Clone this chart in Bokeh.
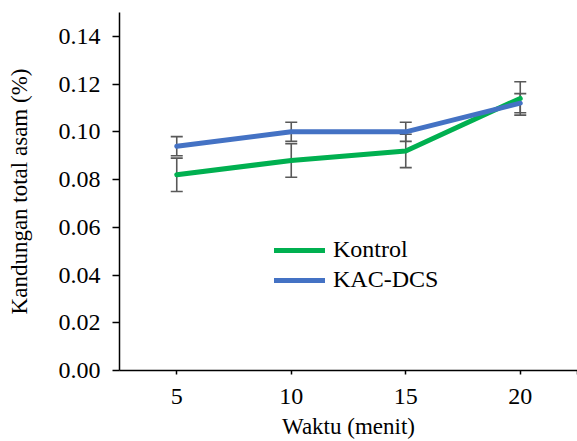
import math
from bokeh.plotting import figure
from bokeh.models import (ColumnDataSource, Whisker, TeeHead, FixedTicker,
                          NumeralTickFormatter, Legend, LegendItem, Range1d)
from bokeh.embed import file_html
from bokeh.resources import INLINE

# ---- data ----
waktu = [5, 10, 15, 20]
kontrol = [0.082, 0.088, 0.092, 0.114]
kontrol_err = [0.007, 0.007, 0.007, 0.007]
kacdcs = [0.094, 0.100, 0.100, 0.112]
kacdcs_err = [0.004, 0.004, 0.004, 0.004]
y_ticks = [0.00, 0.02, 0.04, 0.06, 0.08, 0.10, 0.12, 0.14]
x_ticks = [5, 10, 15, 20]

FONT = "Liberation Serif"
GREEN = "#00B050"
BLUE = "#4472C4"
ERR = "#595959"

p = figure(width=577, height=441, x_range=Range1d(2.5, 22.5), y_range=Range1d(0, 0.15),
           output_backend="svg", toolbar_location=None,
           min_border_left=119, min_border_right=0, min_border_top=12, min_border_bottom=40)
p.xgrid.visible = False
p.ygrid.visible = False
p.outline_line_color = None
p.background_fill_color = "white"
p.border_fill_color = "white"

src_k = ColumnDataSource(dict(x=waktu, y=kontrol,
                              lo=[v - e for v, e in zip(kontrol, kontrol_err)],
                              hi=[v + e for v, e in zip(kontrol, kontrol_err)]))
src_b = ColumnDataSource(dict(x=waktu, y=kacdcs,
                              lo=[v - e for v, e in zip(kacdcs, kacdcs_err)],
                              hi=[v + e for v, e in zip(kacdcs, kacdcs_err)]))

for src in (src_k, src_b):
    w = Whisker(base="x", lower="lo", upper="hi", source=src,
                line_color=ERR, line_width=1.6,
                upper_head=TeeHead(size=12, line_color=ERR, line_width=1.6),
                lower_head=TeeHead(size=12, line_color=ERR, line_width=1.6))
    p.add_layout(w)

r1 = p.line("x", "y", source=src_k, line_color=GREEN, line_width=5,
            line_cap="round", line_join="round")
r2 = p.line("x", "y", source=src_b, line_color=BLUE, line_width=5,
            line_cap="round", line_join="round")

# axes
xa = p.xaxis[0]
xa.ticker = FixedTicker(ticks=x_ticks + [22.5])
xa.major_label_overrides = {22.5: ""}
xa.minor_tick_line_color = None
xa.major_tick_in = 0
xa.major_tick_out = 4
xa.major_label_standoff = 14
xa.axis_label = "Waktu (menit)"
xa.axis_label_standoff = 7

ya = p.yaxis[0]
ya.ticker = FixedTicker(ticks=y_ticks)
ya.formatter = NumeralTickFormatter(format="0.00")
ya.minor_tick_line_color = None
ya.major_tick_in = 0
ya.major_tick_out = 7
ya.major_label_standoff = 12
ya.axis_label = "Kandungan total asam (%)"
ya.axis_label_standoff = 24

for ax in (xa, ya):
    ax.axis_line_color = "black"
    ax.axis_line_width = 1.5
    ax.major_tick_line_color = "black"
    ax.major_tick_line_width = 1.5
    ax.major_label_text_font = FONT
    ax.major_label_text_font_size = "24px"
    ax.major_label_text_color = "black"
    ax.axis_label_text_font = FONT
    ax.axis_label_text_font_size = "23px"
    ax.axis_label_text_font_style = "normal"
    ax.axis_label_text_color = "black"

legend = Legend(items=[LegendItem(label="Kontrol", renderers=[r1]),
                       LegendItem(label="KAC-DCS", renderers=[r2])],
                location=(155, 77), padding=0, margin=0,
                border_line_color=None, background_fill_alpha=0,
                glyph_width=51, glyph_height=26, label_height=26, spacing=3,
                label_standoff=8, label_text_font=FONT, label_text_font_size="24px",
                label_text_color="black")
p.add_layout(legend)

open("out.html", "w").write(file_html(p, INLINE))
